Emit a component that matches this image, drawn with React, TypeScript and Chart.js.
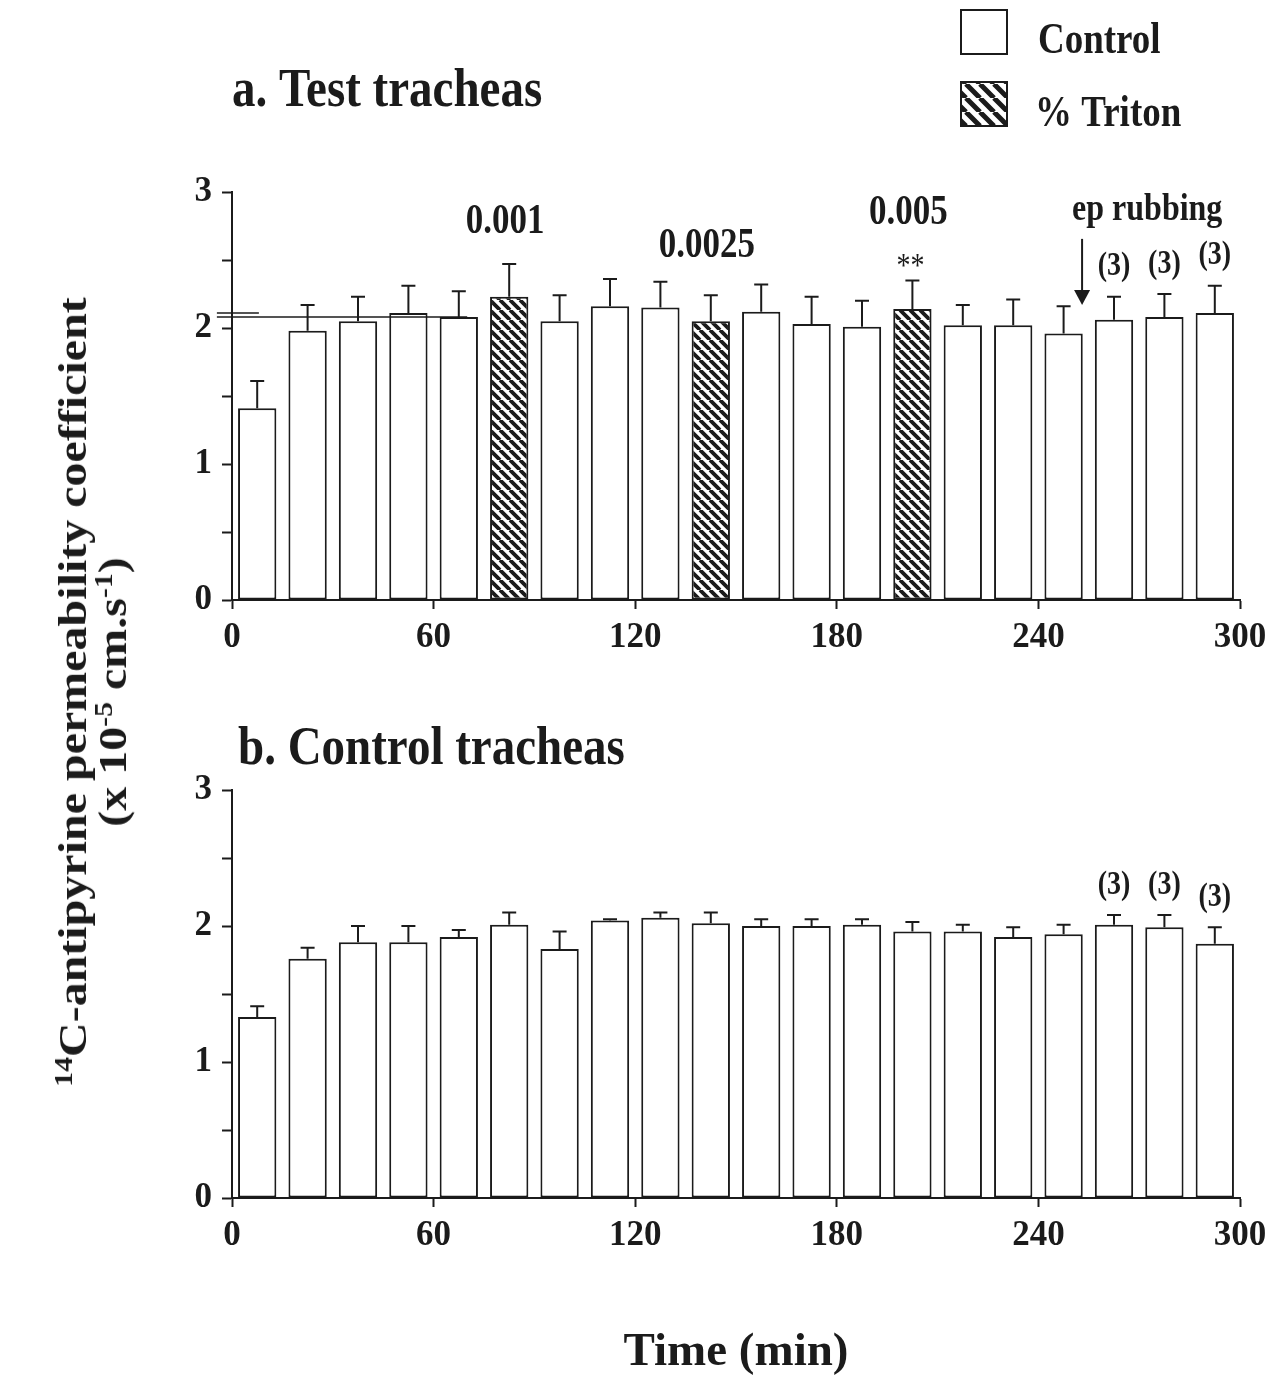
import React, { useEffect, useRef } from 'react';
import { Chart, registerables } from 'chart.js';

Chart.register(...registerables);

const FONT = '"Liberation Serif", "Times New Roman", serif';
const INK = '#1b1b1b';
const V_STRETCH = 1.18;

// ---------- data ----------
const TIMES = [7.5, 22.5, 37.5, 52.5, 67.5, 82.5, 97.5, 112.5, 127.5, 142.5, 157.5, 172.5, 187.5, 202.5, 217.5, 232.5, 247.5, 262.5, 277.5, 292.5];

// a. Test tracheas
const TEST_MEAN = [1.41, 1.98, 2.05, 2.11, 2.08, 2.23, 2.05, 2.16, 2.15, 2.05, 2.12, 2.03, 2.01, 2.14, 2.02, 2.02, 1.96, 2.06, 2.08, 2.11];
const TEST_SEM = [0.2, 0.19, 0.18, 0.2, 0.19, 0.24, 0.19, 0.2, 0.19, 0.19, 0.2, 0.2, 0.19, 0.21, 0.15, 0.19, 0.2, 0.17, 0.17, 0.2];
const TEST_TREATMENT = ['Control', 'Control', 'Control', 'Control', 'Control', 'Triton', 'Control', 'Control', 'Control', 'Triton', 'Control', 'Control', 'Control', 'Triton', 'Control', 'Control', 'Control', 'Control', 'Control', 'Control'];
const TRITON_CONC = ['0.001', '0.0025', '0.005'];
const TEST_SIGNIF = ['', '', '', '', '', '', '', '', '', '', '', '', '', '**', '', '', '', '', '', ''];

// b. Control tracheas
const CONTROL_MEAN = [1.33, 1.76, 1.88, 1.88, 1.92, 2.01, 1.83, 2.04, 2.06, 2.02, 2.0, 2.0, 2.01, 1.96, 1.96, 1.92, 1.94, 2.01, 1.99, 1.87];
const CONTROL_SEM = [0.08, 0.08, 0.12, 0.12, 0.05, 0.09, 0.13, 0.01, 0.04, 0.08, 0.05, 0.05, 0.04, 0.07, 0.05, 0.07, 0.07, 0.07, 0.09, 0.12];

const N_LABELS = ['', '', '', '', '', '', '', '', '', '', '', '', '', '', '', '', '', '(3)', '(3)', '(3)'];

const X_TICKS = [0, 60, 120, 180, 240, 300];
const Y_TICKS = [0, 0.5, 1, 1.5, 2, 2.5, 3];
const Y_TICK_LABELS = ['0', '', '1', '', '2', '', '3'];

// baseline reference lines drawn in panel a
const BASELINE_VALUE = 2.08;
const BASELINE_FROM = -4.5;
const BASELINE_TO = 70;
const BASELINE2_VALUE = 2.11;
const BASELINE2_FROM = -4.5;
const BASELINE2_TO = 8;
const EP_RUBBING_TIME = 253;

// ---------- helpers ----------
function makeHatch(ctx: CanvasRenderingContext2D, size: number, lw: number) {
  const c = document.createElement('canvas');
  c.width = size;
  c.height = size;
  const g = c.getContext('2d')!;
  g.fillStyle = '#ffffff';
  g.fillRect(0, 0, size, size);
  g.strokeStyle = INK;
  g.lineWidth = lw;
  g.beginPath();
  for (const k of [-size, 0, size]) {
    g.moveTo(k, 0);
    g.lineTo(k + size, size);
  }
  g.stroke();
  return ctx.createPattern(c, 'repeat')!;
}

function drawText(
  ctx: CanvasRenderingContext2D,
  text: string,
  x: number,
  y: number,
  font: string,
  align: CanvasTextAlign,
  baseline: CanvasTextBaseline
) {
  ctx.save();
  ctx.translate(x, y);
  ctx.scale(1, V_STRETCH);
  ctx.font = font;
  ctx.textAlign = align;
  ctx.textBaseline = baseline;
  ctx.fillText(text, 0, 0);
  ctx.restore();
}

const errorBarPlugin = {
  id: 'errorBars',
  afterDatasetsDraw(chart: any) {
    const { ctx } = chart;
    const y = chart.scales.y;
    ctx.save();
    ctx.strokeStyle = INK;
    ctx.lineWidth = 2;
    chart.data.datasets.forEach((ds: any, di: number) => {
      if (ds.type !== 'bar') return;
      const meta = chart.getDatasetMeta(di);
      meta.data.forEach((el: any, i: number) => {
        const raw = ds.data[i];
        const top = y.getPixelForValue(raw.y + raw.err);
        ctx.beginPath();
        ctx.moveTo(el.x, el.y);
        ctx.lineTo(el.x, top);
        ctx.moveTo(el.x - 7, top);
        ctx.lineTo(el.x + 7, top);
        ctx.stroke();
      });
    });
    ctx.restore();
  },
};

function makeAnnotationPlugin(panel: 'a' | 'b', legendHatch: CanvasPattern) {
  const means = panel === 'a' ? TEST_MEAN : CONTROL_MEAN;
  const sems = panel === 'a' ? TEST_SEM : CONTROL_SEM;
  const concOffsets = [42, 49, 67];
  return {
    id: 'annotations' + panel,
    afterDraw(chart: any) {
      const { ctx } = chart;
      const x = chart.scales.x;
      const y = chart.scales.y;
      ctx.save();
      ctx.fillStyle = INK;
      ctx.strokeStyle = INK;

      // panel title
      if (panel === 'a') drawText(ctx, 'a. Test tracheas', 232, 106, `bold 47px ${FONT}`, 'left', 'alphabetic');
      else drawText(ctx, 'b. Control tracheas', 238, 64, `bold 47px ${FONT}`, 'left', 'alphabetic');

      if (panel === 'a') {
        // legend
        ctx.lineWidth = 2;
        ctx.fillStyle = '#ffffff';
        ctx.fillRect(961, 10, 46, 44);
        ctx.strokeRect(961, 10, 46, 44);
        ctx.fillStyle = legendHatch;
        ctx.fillRect(961, 82, 46, 44);
        ctx.strokeRect(961, 82, 46, 44);
        ctx.fillStyle = INK;
        drawText(ctx, 'Control', 1038, 53, `bold 37px ${FONT}`, 'left', 'alphabetic');
        drawText(ctx, '% Triton', 1035, 126, `bold 37px ${FONT}`, 'left', 'alphabetic');
      }

      let k = 0;
      TIMES.forEach((t, i) => {
        const cx = x.getPixelForValue(t);
        const top = y.getPixelForValue(means[i] + sems[i]);
        if (panel === 'a' && TEST_TREATMENT[i] === 'Triton') {
          drawText(ctx, TRITON_CONC[k], cx - 4, top - concOffsets[k], `bold 35px ${FONT}`, 'center', 'middle');
          k++;
        }
        if (panel === 'a' && TEST_SIGNIF[i]) {
          drawText(ctx, TEST_SIGNIF[i], cx - 2, top - 13, `28px ${FONT}`, 'center', 'middle');
        }
        if (N_LABELS[i]) {
          drawText(ctx, N_LABELS[i], cx, top - 30, `bold 28px ${FONT}`, 'center', 'middle');
        }
      });

      if (panel === 'a') {
        // ep rubbing arrow
        const ax = x.getPixelForValue(EP_RUBBING_TIME);
        const tip = y.getPixelForValue(2.17);
        ctx.lineWidth = 2;
        ctx.beginPath();
        ctx.moveTo(ax, tip - 66);
        ctx.lineTo(ax, tip - 10);
        ctx.stroke();
        ctx.beginPath();
        ctx.moveTo(ax - 8, tip - 15);
        ctx.lineTo(ax + 8, tip - 15);
        ctx.lineTo(ax, tip);
        ctx.closePath();
        ctx.fill();
        drawText(ctx, 'ep rubbing', ax - 10, tip - 95, `bold 32px ${FONT}`, 'left', 'middle');
      }
      ctx.restore();
    },
  };
}

function buildChart(canvas: HTMLCanvasElement, panel: 'a' | 'b') {
  const ctx = canvas.getContext('2d')!;
  const hatch = makeHatch(ctx, 10, 3.8);
  const legendHatch = makeHatch(ctx, 14, 5);
  const means = panel === 'a' ? TEST_MEAN : CONTROL_MEAN;
  const sems = panel === 'a' ? TEST_SEM : CONTROL_SEM;
  const treat = panel === 'a' ? TEST_TREATMENT : TIMES.map(() => 'Control');
  const pts = (kind: string) =>
    TIMES.map((t, i) => ({ x: t, y: means[i], err: sems[i], kind: treat[i] })).filter((p) => p.kind === kind);

  const barCommon = {
    type: 'bar',
    borderColor: INK,
    borderWidth: 2,
    borderSkipped: false,
    grouped: false,
    barPercentage: 0.76,
    categoryPercentage: 1,
    order: 2,
  };

  const lineCommon = {
    type: 'line',
    borderColor: INK,
    borderWidth: 1.5,
    pointRadius: 0,
    clip: false,
    order: 0,
  };

  const datasets: any[] = [{ ...barCommon, label: 'Control', data: pts('Control'), backgroundColor: '#ffffff' }];
  if (panel === 'a') {
    datasets.push({ ...barCommon, label: '% Triton', data: pts('Triton'), backgroundColor: hatch });
    datasets.push({
      ...lineCommon,
      label: 'baseline',
      data: [
        { x: BASELINE_FROM, y: BASELINE_VALUE },
        { x: BASELINE_TO, y: BASELINE_VALUE },
      ],
    });
    datasets.push({
      ...lineCommon,
      label: 'baseline2',
      data: [
        { x: BASELINE2_FROM, y: BASELINE2_VALUE },
        { x: BASELINE2_TO, y: BASELINE2_VALUE },
      ],
    });
  }

  const tickFont = { family: FONT, size: 35, weight: 'bold' as const };
  return new Chart(ctx, {
    type: 'bar',
    data: { datasets },
    options: {
      responsive: false,
      animation: false,
      devicePixelRatio: 1,
      events: [],
      layout: { padding: { top: panel === 'a' ? 192 : 90, right: 35, left: 0, bottom: 0 } },
      plugins: { legend: { display: false }, tooltip: { enabled: false } },
      scales: {
        x: {
          type: 'linear',
          min: 0,
          max: 300,
          offset: false,
          afterBuildTicks: (s: any) => {
            s.ticks = X_TICKS.map((v) => ({ value: v }));
          },
          afterFit: (s: any) => {
            s.height = panel === 'a' ? 100 : 183;
          },
          grid: { offset: false, drawOnChartArea: false, drawTicks: true, tickLength: 9, tickWidth: 2, tickColor: INK },
          border: { display: true, color: INK, width: 2 },
          ticks: { color: INK, font: tickFont, padding: 8, maxRotation: 0, autoSkip: false },
          title: {
            display: panel === 'b',
            text: 'Time (min)',
            color: INK,
            font: { family: FONT, size: 47, weight: 'bold' },
            padding: 0,
          },
        },
        y: {
          type: 'linear',
          min: 0,
          max: 3,
          afterBuildTicks: (s: any) => {
            s.ticks = Y_TICKS.map((v) => ({ value: v }));
          },
          afterFit: (s: any) => {
            s.width = 232;
          },
          grid: { drawOnChartArea: false, drawTicks: true, tickLength: 10, tickWidth: 2, tickColor: INK },
          border: { display: true, color: INK, width: 2 },
          ticks: {
            color: INK,
            font: tickFont,
            padding: 10,
            autoSkip: false,
            callback: (v: any) => Y_TICK_LABELS[Y_TICKS.indexOf(Number(v))] ?? '',
          },
        },
      },
    } as any,
    plugins: [errorBarPlugin, makeAnnotationPlugin(panel, legendHatch)],
  } as any);
}

export default function App() {
  const refA = useRef<HTMLCanvasElement>(null);
  const refB = useRef<HTMLCanvasElement>(null);

  useEffect(() => {
    const a = buildChart(refA.current!, 'a');
    const b = buildChart(refB.current!, 'b');
    return () => {
      a.destroy();
      b.destroy();
    };
  }, []);

  const supStyle: React.CSSProperties = { fontSize: '0.62em', verticalAlign: '0.55em', lineHeight: 0 };

  return (
    <div
      style={{
        position: 'absolute',
        left: 0,
        top: 0,
        width: 1275,
        height: 1381,
        background: '#ffffff',
        overflow: 'hidden',
      }}
    >
      <canvas ref={refA} width={1275} height={700} style={{ position: 'absolute', left: 0, top: 0 }} />
      <canvas ref={refB} width={1275} height={681} style={{ position: 'absolute', left: 0, top: 700 }} />
      <div
        style={{
          position: 'absolute',
          left: 93,
          top: 692,
          transform: 'translate(-50%, -50%) rotate(-90deg) scaleX(1.2)',
          whiteSpace: 'nowrap',
          textAlign: 'center',
          fontFamily: FONT,
          fontWeight: 'bold',
          fontSize: 40,
          lineHeight: '40px',
          color: INK,
        }}
      >
        <div>
          <sup style={supStyle}>14</sup>C-antipyrine permeability coefficient
        </div>
        <div>
          (x 10<sup style={supStyle}>-5</sup> cm.s<sup style={supStyle}>-1</sup>)
        </div>
      </div>
    </div>
  );
}
